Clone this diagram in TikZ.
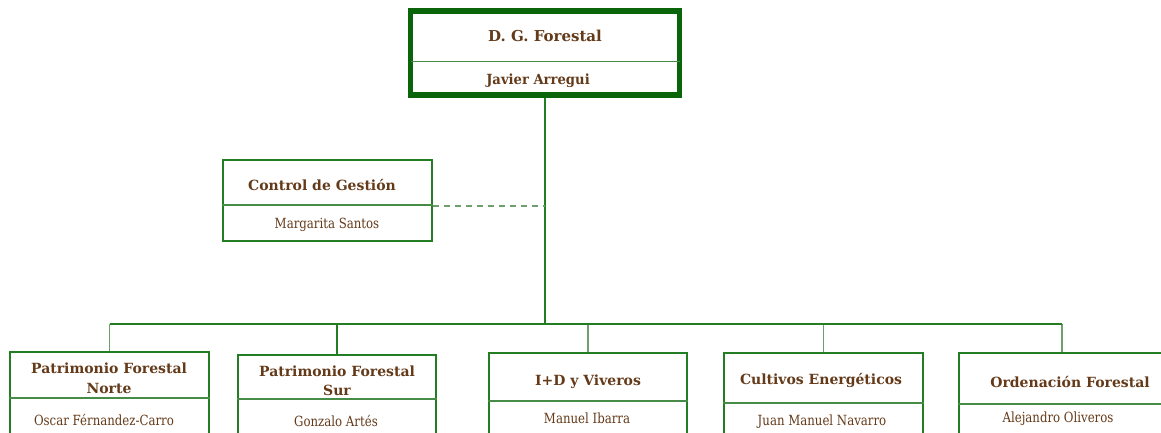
\documentclass[tikz,border=0pt]{standalone}
\usepackage{fontspec}
\setmainfont{DejaVu Serif}
\newfontfamily\titlefont[FakeStretch=1.0]{DejaVu Serif Bold}
\newfontfamily\namefont[FakeStretch=0.84]{DejaVu Serif}
\newfontfamily\bossfont[FakeStretch=0.94]{DejaVu Serif Bold}
\definecolor{boxgreen}{RGB}{35,125,35}
\definecolor{darkgreen}{RGB}{10,100,10}
\definecolor{divgreen}{RGB}{70,140,70}
\definecolor{dropgreen}{RGB}{110,160,110}
\definecolor{dashgreen}{RGB}{110,160,110}
\definecolor{txtbrown}{RGB}{100,58,25}
\begin{document}
\begin{tikzpicture}[x=1pt,y=-1pt,
  box/.style={draw=boxgreen,line width=1.5pt,inner sep=0pt,fill=white},
  bossbox/.style={draw=darkgreen,line width=5.5pt,inner sep=0pt,fill=white},
  divline/.style={draw=divgreen,line width=1.3pt},
  conn/.style={draw=boxgreen,line width=1.3pt},
  drop/.style={draw=dropgreen,line width=1.5pt},
  dashline/.style={draw=dashgreen,line width=1.5pt,dash pattern=on 6pt off 5pt},
  ttl/.style={text=txtbrown,font=\titlefont\fontsize{14}{19}\selectfont,inner sep=0pt,text height=10pt,text depth=0pt,align=center},
  nm/.style={text=txtbrown,font=\namefont\fontsize{14}{15}\selectfont,inner sep=0pt,text height=10pt,text depth=0pt},
  bossnm/.style={text=txtbrown,font=\bossfont\fontsize{14}{15}\selectfont,inner sep=0pt,text height=10pt,text depth=0pt}]
\useasboundingbox (0,0) rectangle (1161,433);
\clip (0,0) rectangle (1161,433);
\coordinate (bus) at (545,324);
\coordinate (dashend) at (545,206);
% boxes
\node[bossbox,minimum width=269pt,minimum height=84pt] (dg) at (545,53) {};
\node[box,minimum width=209pt,minimum height=81pt] (cg) at (327.5,200.5) {};
\node[box,minimum width=199pt,minimum height=93pt] (b1) at (109.5,398.5) {};
\node[box,minimum width=198pt,minimum height=90pt] (b2) at (337,400) {};
\node[box,minimum width=198pt,minimum height=92pt] (b3) at (588,399) {};
\node[box,minimum width=199pt,minimum height=92pt] (b4) at (823.5,399) {};
\node[box,minimum width=206pt,minimum height=92pt] (b5) at (1062,399) {};
% connectors
\draw[drop] (b1.north) -- (b1.north |- bus);
\draw[drop] (b3.north) -- (b3.north |- bus);
\draw[drop] (b4.north) -- (b4.north |- bus);
\draw[drop] (b5.north) -- (b5.north |- bus);
\draw[conn] (dg.south) -- (bus);
\draw[conn] (b1.north |- bus) -- (b5.north |- bus);
\draw[conn] (b2.north) -- (b2.north |- bus);
\draw[dashline] (cg.east |- dashend) -- (dashend);
% dividers
\draw[draw=divgreen,line width=1pt] ([xshift=2.75pt]dg.west |- 0,62) -- ([xshift=-2.75pt]dg.east |- 0,62);
\draw[divline] (cg.west |- 0,205) -- (cg.east |- 0,205);
\draw[divline] (b1.west |- 0,398) -- (b1.east |- 0,398);
\draw[divline] (b2.west |- 0,399) -- (b2.east |- 0,399);
\draw[divline] (b3.west |- 0,401) -- (b3.east |- 0,401);
\draw[divline] (b4.west |- 0,403) -- (b4.east |- 0,403);
\draw[divline] (b5.west |- 0,404) -- (b5.east |- 0,404);
% texts
\node[ttl,font=\titlefont\fontsize{15}{19}\selectfont] (t0) at (545,37) {D. G. Forestal};
\node[bossnm] (n0) at (538,80) {Javier Arregui};
\node[ttl] (tc) at (322,185) {Control de Gestión};
\node[nm] (nc) at (327,223) {Margarita Santos};
\node[ttl] (t1a) at (109,368) {Patrimonio Forestal};
\node[ttl] (t1b) at (109,388) {Norte};
\node[nm] (n1) at (104,420) {Oscar Férnandez-Carro};
\node[ttl] (t2a) at (337,371) {Patrimonio Forestal};
\node[ttl] (t2b) at (337,390) {Sur};
\node[nm] (n2) at (336,421) {Gonzalo Artés};
\node[ttl] (t3) at (588,380) {I+D y Viveros};
\node[nm] (n3) at (587,418) {Manuel Ibarra};
\node[ttl] (t4) at (821,379) {Cultivos Energéticos};
\node[nm] (n4) at (822,420) {Juan Manuel Navarro};
\node[ttl] (t5) at (1070,382) {Ordenación Forestal};
\node[nm] (n5) at (1058,417) {Alejandro Oliveros};
\end{tikzpicture}
\end{document}
